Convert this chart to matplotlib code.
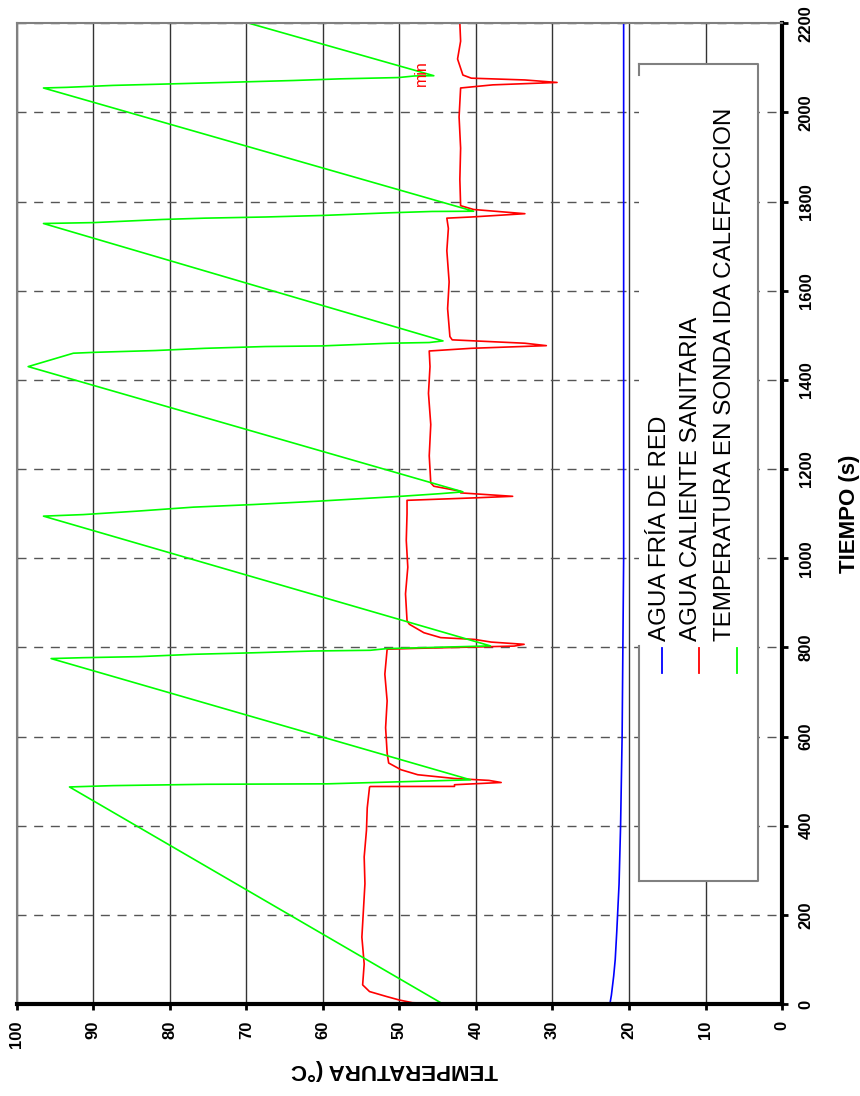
"""
Temperaturas de agua fria, agua caliente sanitaria y sonda de ida de
calefaccion frente al tiempo (grafico girado 90 grados).
"""

import matplotlib
matplotlib.use("Agg")
import matplotlib.pyplot as plt
from matplotlib.patches import Rectangle

plt.rcParams["font.family"] = ["Liberation Sans", "DejaVu Sans"]

# AGUA FRIA DE RED
blue_t = [0, 20, 63, 100, 162, 269, 400, 600, 800, 1000, 2200]
blue_T = [22.5, 22.3, 22.0, 21.8, 21.6, 21.3, 21.1, 20.9, 20.8, 20.7, 20.7]

# AGUA CALIENTE SANITARIA
red_t = [0, 3, 9, 17, 28, 43, 90, 150, 210, 270, 330, 390, 440, 486.7,
         488, 488.2, 492, 497, 501.7, 506, 514.4, 525.7, 540.7, 563,
         620, 680, 740, 796,
         798, 803, 807, 812, 818, 822, 833, 852, 860,
         920, 980, 1040, 1100, 1130,
         1135.5, 1139, 1146.7, 1150.4, 1161.6, 1169,
         1230, 1300, 1370, 1430, 1465,
         1471, 1477, 1482.4, 1490, 1497.4,
         1560, 1620, 1690, 1740, 1763,
         1765.6, 1773, 1782.4, 1791,
         1850, 1920, 1990, 2055,
         2062, 2067.4, 2073, 2077, 2084,
         2120, 2160, 2200]
red_T = [43.3, 48.3, 50.0, 51.7, 53.9, 54.8, 54.6, 54.9, 54.7, 54.5, 54.6, 54.3, 54.2, 53.9,
         53.8, 42.8, 42.8, 36.7, 38.3, 42.8, 47.6, 49.8, 51.4, 51.6,
         51.8, 51.6, 51.9, 51.6,
         47.6, 35.0, 33.7, 38.0, 40.2, 44.6, 46.8, 48.7, 49.0,
         49.2, 48.9, 49.1, 49.0, 49.0,
         40.2, 35.2, 42.0, 42.0, 45.5, 45.9,
         46.1, 45.9, 46.2, 46.0, 46.1,
         40.6, 30.8, 33.6, 43.1, 43.4,
         43.7, 43.5, 43.8, 43.6, 43.8,
         40.6, 33.6, 40.3, 42.0,
         42.1, 42.0, 42.2, 42.0,
         37.8, 29.4, 33.6, 40.6, 41.7,
         42.4, 42.0, 42.1]

# TEMPERATURA EN SONDA IDA CALEFACCION
green_t = [0, 487, 490, 493, 494, 497, 503,
           775, 777, 779.4, 784.6, 788, 792, 793.6, 797.4, 803.4,
           1094.5, 1098, 1105.7, 1114.7, 1120.6, 1128, 1139, 1145, 1149,
           1430, 1460, 1462, 1466, 1471, 1475, 1476.4, 1482.4, 1484, 1487.6,
           1751, 1753, 1760, 1763, 1765.6, 1769, 1775, 1778, 1778.5,
           2055, 2056.4, 2060.8, 2064.5, 2068, 2071.8, 2075.5, 2078.4, 2082, 2082.5,
           2200]
green_T = [44.3, 93.1, 87.4, 75.2, 59.4, 53.3, 40.7,
           95.5, 91.3, 83.9, 76.9, 69.0, 61.2, 53.8, 51.6, 38.1,
           96.5, 91.3, 84.3, 76.9, 69.0, 60.7, 49.8, 44.6, 41.7,
           98.5, 92.6, 89.8, 81.9, 75.4, 67.5, 60.1, 51.3, 46.1, 44.3,
           96.5, 90.0, 81.0, 75.4, 67.5, 60.1, 51.3, 45.7, 40.3,
           96.5, 93.5, 87.4, 79.1, 71.7, 63.8, 57.7, 50.1, 48.0, 45.5,
           69.6]

temp_ticks = list(range(0, 101, 10))
time_ticks = list(range(0, 2201, 200))
labels = ["AGUA FRÍA DE RED", "AGUA CALIENTE SANITARIA",
          "TEMPERATURA EN SONDA IDA CALEFACCION"]
colors = ["#0000ff", "#ff0000", "#00ff00"]


def initialize_axes():
    fig = plt.figure(figsize=(8.6, 10.96), dpi=100)
    ax = fig.add_axes([0.0194, 0.0839, 0.890, 0.8948])
    ax.set_xlim(100, 0)
    ax.set_ylim(0, 2200)
    ax.set_xticks(temp_ticks)
    ax.set_yticks(time_ticks)
    ax.yaxis.tick_right()
    ax.xaxis.tick_bottom()
    for side in ["left", "top"]:
        ax.spines[side].set_color("#808080")
        ax.spines[side].set_linewidth(1.5)
    for side in ["right", "bottom"]:
        ax.spines[side].set_color("black")
        ax.spines[side].set_linewidth(3)
    ax.tick_params(direction="out", length=4, width=2, pad=8,
                   labelsize=12, labelrotation=90)
    for lab in ax.get_xticklabels() + ax.get_yticklabels():
        lab.set_fontweight("bold")
    for lab in ax.get_yticklabels():
        lab.set_verticalalignment("center")
    ax.xaxis.grid(True, color="#333333", lw=1)
    ax.yaxis.grid(True, color="#555555", lw=1, ls=(0, (6.5, 5.5)))
    fig.text(849 / 860, 1 - 514 / 1096, "TIEMPO (s)", rotation=90,
             ha="center", va="center", fontsize=16, fontweight="bold")
    fig.text(395 / 860, 1 - 1070 / 1096, "TEMPERATURA (°C", rotation=180,
             ha="center", va="center", fontsize=16, fontweight="bold")
    return fig, ax


def legend(ax):
    edge = "#808080"
    ax.add_patch(Rectangle((3.09, 276), 15.54, 1832, facecolor="white",
                           edgecolor="none", zorder=2.2))
    ax.plot([18.63, 3.09, 3.09, 18.63], [2108, 2108, 276, 276],
            c=edge, lw=1.5, zorder=2.3)
    ax.plot([18.63, 18.63], [2108, 2085], c=edge, lw=1.5, zorder=2.3)
    ax.plot([18.63, 18.63], [803, 276], c=edge, lw=1.5, zorder=2.3)
    text_x = [15.9, 11.9, 7.5]
    line_x = [15.75, 10.8, 5.85]
    for i in range(len(labels)):
        ax.text(text_x[i], 814, labels[i], rotation=90, ha="center",
                va="bottom", fontsize=17.4, zorder=2.4)
        ax.plot([line_x[i], line_x[i]], [742, 799], c=colors[i], lw=1.3,
                zorder=2.4)


if __name__ == "__main__":
    fig, ax = initialize_axes()
    ax.plot(blue_T, blue_t, c=colors[0], lw=1.2, zorder=2)
    ax.plot(red_T, red_t, c=colors[1], lw=1.2, zorder=2)
    ax.plot(green_T, green_t, c=colors[2], lw=1.2, zorder=2)
    ax.text(47.1, 2088, "min", color="red", rotation=90, ha="center",
            va="center", fontsize=11.5)
    legend(ax)
    fig.savefig("out.png", dpi=100)
    plt.close(fig)
